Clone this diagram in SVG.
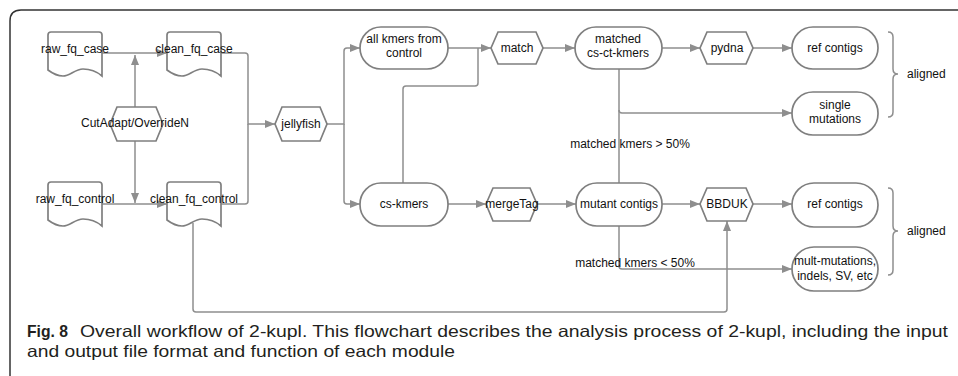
<svg xmlns="http://www.w3.org/2000/svg" width="958" height="376" viewBox="0 0 958 376">
<style>
.n{fill:#fff;stroke:#7f7f7f;stroke-width:1.7}
.t{font-family:"Liberation Sans",Arial,sans-serif;font-size:12px;fill:#111;text-anchor:middle}
.c{fill:none;stroke:#8e8e8e;stroke-width:1.5}
.a{marker-end:url(#arr)}
.cap{font-family:"Liberation Sans",Arial,sans-serif;font-size:16.5px;fill:#231f20}
</style>
<defs>
<marker id="arr" markerUnits="userSpaceOnUse" markerWidth="10" markerHeight="8" refX="10" refY="4" orient="auto">
<path d="M0,0 L10,4 L0,8 Z" fill="#8e8e8e"/>
</marker>
</defs>
<rect width="958" height="376" fill="#fff"/>
<path d="M10,376 V21 Q10,10 21,10 H958" fill="none" stroke="#333" stroke-width="1.5"/>

<g id="connectors">
<path class="c a" d="M102,53 H167"/>
<path class="c a" d="M135,107 V55"/>
<path class="c a" d="M135,141 V203"/>
<path class="c a" d="M102,204 H167"/>
<path class="c a" d="M221,53 H245 Q248,53 248,56 V124 H275"/>
<path class="c" d="M221,204 H245 Q248,204 248,201 V124"/>
<path class="c a" d="M327,124 H344 V51 Q344,48 347,48 H360"/>
<path class="c a" d="M344,124 V201 Q344,204 347,204 H360"/>
<path class="c a" d="M448,48 H491"/>
<path class="c" d="M403,183 V89 Q403,86 406,86 H475 Q478,86 478,83 V48"/>
<path class="c a" d="M543,48 H575"/>
<path class="c a" d="M662,48 H700"/>
<path class="c a" d="M753,48 H792"/>
<path class="c a" d="M619,69 V110 Q619,113 622,113 H792"/>
<path class="c" d="M619,110 V183"/>
<path class="c a" d="M448,204 H486"/>
<path class="c a" d="M537,204 H576"/>
<path class="c a" d="M662,204 H700"/>
<path class="c a" d="M753,204 H792"/>
<path class="c a" d="M619,226 V266 Q619,269 622,269 H792"/>
<path class="c a" d="M193,223 V309 Q193,312 196,312 H724 Q727,312 727,309 V221"/>
<path class="c" d="M888,32 Q893,32 893,37 V69 Q893,74 898,74 Q893,74 893,79 V112 Q893,117 888,117"/>
<path class="c" d="M888,188 Q893,188 893,193 V226 Q893,231 898,231 Q893,231 893,236 V270 Q893,275 888,275"/>
</g>

<g id="raw_fq_case">
<path class="n" d="M48,35 Q48,32 51,32 H99 Q102,32 102,35 V76 C95,70 89,69 83,69 C75,69 70,76 63,76 C57,76 52,73 48,70 Z"/>
<text class="t" x="75" y="53">raw_fq_case</text>
</g>
<g id="clean_fq_case">
<path class="n" d="M167,35 Q167,32 170,32 H218 Q221,32 221,35 V76 C214,70 208,69 202,69 C194,69 189,76 182,76 C176,76 171,73 167,70 Z"/>
<text class="t" x="194" y="53">clean_fq_case</text>
</g>
<g id="raw_fq_control">
<path class="n" d="M48,185 Q48,182 51,182 H99 Q102,182 102,185 V226 C95,220 89,219 83,219 C75,219 70,226 63,226 C57,226 52,223 48,220 Z"/>
<text class="t" x="75" y="203">raw_fq_control</text>
</g>
<g id="clean_fq_control">
<path class="n" d="M167,185 Q167,182 170,182 H218 Q221,182 221,185 V226 C214,220 208,219 202,219 C194,219 189,226 182,226 C176,226 171,223 167,220 Z"/>
<text class="t" x="194" y="203">clean_fq_control</text>
</g>
<g id="cutadapt">
<polygon class="n" points="110,124 117,107 156,107 163,124 156,141 117,141"/>
<text class="t" x="135" y="127">CutAdapt/OverrideN</text>
</g>
<g id="jellyfish">
<polygon class="n" points="275,124 282,107 320,107 327,124 320,141 282,141"/>
<text class="t" x="301" y="128">jellyfish</text>
</g>
<g id="allkmers">
<rect class="n" x="360" y="27" width="88" height="42" rx="21"/>
<text class="t" x="404" y="43">all kmers from</text>
<text class="t" x="404" y="57">control</text>
</g>
<g id="match">
<polygon class="n" points="491,48 498,32 536,32 543,48 536,64 498,64"/>
<text class="t" x="517" y="52">match</text>
</g>
<g id="matched">
<rect class="n" x="575" y="27" width="87" height="42" rx="21"/>
<text class="t" x="618" y="43">matched</text>
<text class="t" x="618" y="57">cs-ct-kmers</text>
</g>
<g id="pydna">
<polygon class="n" points="700,48 707,32 746,32 753,48 746,64 707,64"/>
<text class="t" x="727" y="52">pydna</text>
</g>
<g id="refcontigs1">
<rect class="n" x="792" y="27" width="86" height="42" rx="21"/>
<text class="t" x="835" y="52">ref contigs</text>
</g>
<g id="single">
<rect class="n" x="792" y="92" width="86" height="43" rx="21"/>
<text class="t" x="835" y="109">single</text>
<text class="t" x="835" y="123">mutations</text>
</g>
<g id="cskmers">
<rect class="n" x="360" y="183" width="88" height="43" rx="21"/>
<text class="t" x="404" y="208">cs-kmers</text>
</g>
<g id="mergeTag">
<polygon class="n" points="486,204 493,188 530,188 537,204 530,221 493,221"/>
<text class="t" x="512" y="208">mergeTag</text>
</g>
<g id="mutant">
<rect class="n" x="576" y="183" width="86" height="43" rx="21"/>
<text class="t" x="619" y="208">mutant contigs</text>
</g>
<g id="bbduk">
<polygon class="n" points="700,204 707,188 746,188 753,204 746,221 707,221"/>
<text class="t" x="727" y="208">BBDUK</text>
</g>
<g id="refcontigs2">
<rect class="n" x="792" y="183" width="86" height="44" rx="22"/>
<text class="t" x="835" y="208">ref contigs</text>
</g>
<g id="mult">
<rect class="n" x="792" y="247" width="86" height="44" rx="22"/>
<text class="t" x="835" y="265">mult-mutations,</text>
<text class="t" x="835" y="280">indels, SV, etc</text>
</g>
<g id="labels">
<text class="t" x="630" y="148">matched kmers &gt; 50%</text>
<text class="t" x="635" y="267">matched kmers &lt; 50%</text>
<text class="t" x="907" y="78" style="text-anchor:start">aligned</text>
<text class="t" x="907" y="235" style="text-anchor:start">aligned</text>
</g>
<g id="caption">
<text class="cap" x="27" y="337" font-weight="bold" textLength="41" lengthAdjust="spacingAndGlyphs">Fig. 8</text>
<text class="cap" x="80" y="337" textLength="868" lengthAdjust="spacingAndGlyphs">Overall workflow of 2-kupl. This flowchart describes the analysis process of 2-kupl, including the input</text>
<text class="cap" x="27" y="357" textLength="428" lengthAdjust="spacingAndGlyphs">and output file format and function of each module</text>
</g>
</svg>
